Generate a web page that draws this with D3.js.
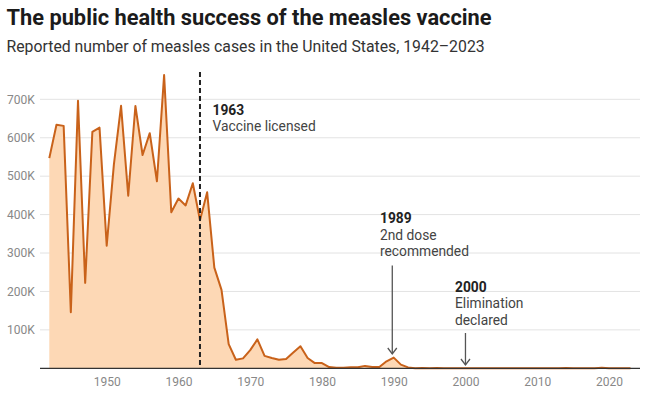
<!DOCTYPE html>
<html><head><meta charset="utf-8">
<script src="https://cdn.jsdelivr.net/npm/d3@7"></script>
<style>
html,body{margin:0;padding:0;background:#fff;}
svg{display:block;font-family:Roboto,"Noto Sans",sans-serif;}
</style></head>
<body>
<svg id="chart" width="650" height="395"></svg>
<script>
const years = d3.range(1942, 2024);
const cases = [
 547000, 633842, 630886, 146013, 696000, 222375, 615104, 626281, 319124, 530118,
 683077, 449146, 682720, 555156, 611936, 486799, 763094, 406162, 441703, 423919,
 481530, 385156, 458083, 261904, 204136, 62705, 22231, 25826, 47351, 75290,
 32275, 26690, 22094, 24374, 41126, 57345, 26871, 13597, 13506, 3124,
 1714, 1497, 2587, 2822, 6282, 3655, 3396, 18193, 27786, 9643,
 2237, 312, 963, 309, 508, 138, 100, 100, 86, 116,
 44, 56, 37, 66, 55, 43, 140, 71, 63, 220,
 55, 187, 667, 188, 86, 120, 375, 1274, 13, 49,
 121, 59
];
const yTicks = [100000, 200000, 300000, 400000, 500000, 600000, 700000];
const xTicks = [1950, 1960, 1970, 1980, 1990, 2000, 2010, 2020];
const annotations = [
  {year: 1963, title: "1963", lines: ["Vaccine licensed"]},
  {year: 1989.8, title: "1989", lines: ["2nd dose", "recommended"]},
  {year: 2000, title: "2000", lines: ["Elimination", "declared"]}
];
const data = years.map((y, i) => ({year: y, value: cases[i]}));

const svg = d3.select("#chart");
const x = d3.scaleLinear().domain([1942, 2023]).range([49.3, 630.5]);
const y = d3.scaleLinear().domain([0, 800000]).range([368.3, 60.9]);

// title
svg.append("text").attr("x", 6.5).attr("y", 24.5).attr("font-size", 21.8).attr("font-weight", 700)
  .attr("fill", "#1b1b1b").text("The public health success of the measles vaccine");
svg.append("text").attr("x", 6.5).attr("y", 51.5).attr("font-size", 15.8)
  .attr("fill", "#333").text("Reported number of measles cases in the United States, 1942\u20132023");

// gridlines
const g = svg.append("g");
g.selectAll("line.grid").data(yTicks).join("line").attr("class", "grid")
  .attr("x1", 40).attr("x2", 640).attr("y1", d => y(d)).attr("y2", d => y(d))
  .attr("stroke", "#e3e3e3").attr("stroke-width", 1);
g.selectAll("text.ylab").data(yTicks).join("text").attr("class", "ylab")
  .attr("x", 7).attr("y", d => y(d)).attr("dy", "0.35em")
  .attr("font-size", 12).attr("fill", "#888")
  .text(d => d3.format("~s")(d).replace("k", "K"));

// area & line
const area = d3.area().x(d => x(d.year)).y0(y(0)).y1(d => y(d.value));
const line = d3.line().x(d => x(d.year)).y(d => y(d.value));
svg.append("path").datum(data).attr("d", area).attr("fill", "#fdd8b5");
svg.append("path").datum(data).attr("d", line).attr("fill", "none")
  .attr("stroke", "#c9621a").attr("stroke-width", 2).attr("stroke-linejoin", "round");

// x axis
const xAxis = d3.axisBottom(x).tickValues(xTicks).tickFormat(d3.format("d")).tickSize(0).tickPadding(9);
const ax = svg.append("g").attr("transform", `translate(0,${y(0)})`).call(xAxis);
ax.select(".domain").remove();
ax.selectAll("text").attr("font-size", 12).attr("fill", "#888").attr("font-family", "Roboto, sans-serif");
svg.append("line").attr("x1", 40).attr("x2", 640).attr("y1", y(0)).attr("y2", y(0))
  .attr("stroke", "#333").attr("stroke-width", 1.2);

// annotations
const a0 = annotations[0];
svg.append("line").attr("x1", x(a0.year)).attr("x2", x(a0.year)).attr("y1", 72).attr("y2", y(0))
  .attr("stroke", "#222").attr("stroke-width", 2).attr("stroke-dasharray", "5,3");
function label(xp, yb, ann) {
  svg.append("text").attr("x", xp).attr("y", yb).attr("font-size", 13.8).attr("font-weight", 700)
    .attr("fill", "#222").text(ann.title);
  ann.lines.forEach((l, i) => {
    svg.append("text").attr("x", xp).attr("y", yb + 16.7 * (i + 1)).attr("font-size", 13.8)
      .attr("fill", "#444").text(l);
  });
}
label(212.5, 114.5, a0);
const a1 = annotations[1], a2 = annotations[2];
label(380, 223, a1);
label(455, 291.5, a2);
function arrow(xp, y1, y2) {
  svg.append("line").attr("x1", xp).attr("x2", xp).attr("y1", y1).attr("y2", y2)
    .attr("stroke", "#555").attr("stroke-width", 1.3);
  svg.append("path").attr("d", `M${xp - 4.5},${y2 - 6}L${xp},${y2}L${xp + 4.5},${y2 - 6}`)
    .attr("fill", "none").attr("stroke", "#555").attr("stroke-width", 1.3);
}
arrow(x(a1.year), 265.5, 354);
arrow(x(a2.year), 333, 365);
</script>
</body></html>
